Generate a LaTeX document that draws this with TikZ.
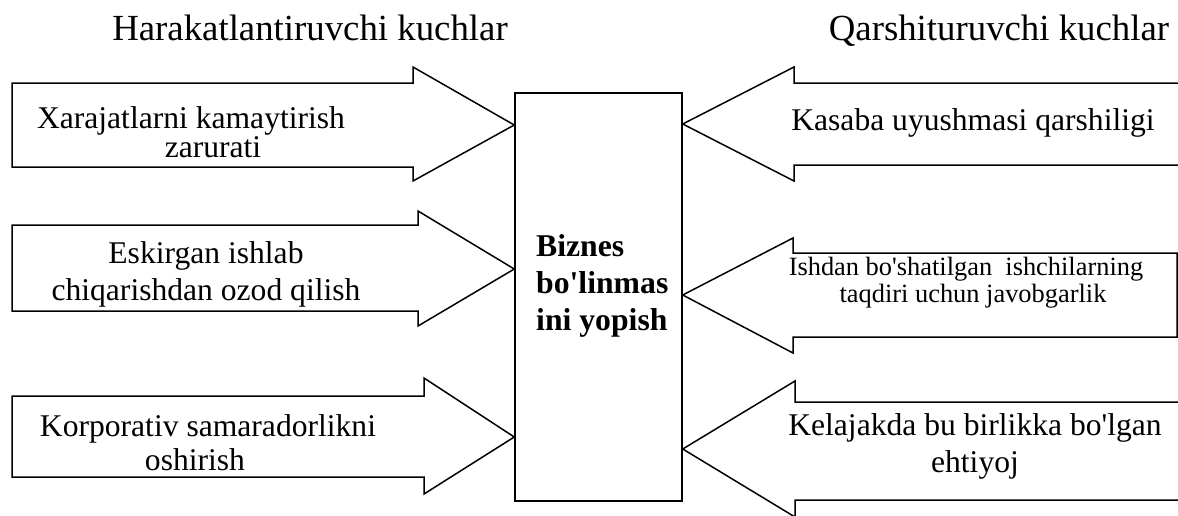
\documentclass[tikz,border=0pt]{standalone}
\usepackage{fontspec}
\setmainfont{Liberation Serif}
\begin{document}
\begin{tikzpicture}[x=1pt,y=-1pt,
  outline/.style={draw=black,line width=1.5pt,line join=miter,fill=white},
  heading/.style={font=\fontsize{36.8pt}{44pt}\selectfont,inner sep=0pt,anchor=base},
  lbl/.style={inner sep=0pt,anchor=base,align=center},
  sz/.style={font=\fontsize{31.6pt}{#1}\selectfont},
]
\useasboundingbox (0,0) rectangle (1178,515);
\begin{scope}
\clip (0,0) rectangle (1178,515);

% central block
\node[outline,minimum width=167pt,minimum height=408pt,inner sep=0pt] (box) at (598.5,297) {};
% multi-line nodes: the base anchor sits on the last line
\node[inner sep=0pt,anchor=base west,align=left,
      font=\fontsize{31.7pt}{37pt}\selectfont\bfseries] (boxtext) at (536,330)
  {Biznes\\bo\textquotesingle linmas\\ini yopish};

% driving forces (left)
\draw[outline] (12,83) -- (413,83) -- (413,67) -- (box.west |- 0,125) -- (413,181) -- (413,167) -- (12,167) -- cycle;
\draw[outline] (12,225) -- (418,225) -- (418,211) -- (box.west |- 0,269) -- (418,326) -- (418,311) -- (12,311) -- cycle;
\draw[outline] (12,396) -- (424,396) -- (424,378) -- (box.west |- 0,437) -- (424,494) -- (424,477) -- (12,477) -- cycle;

% restraining forces (right)
\draw[outline] (1200,83) -- (794,83) -- (794,67) -- (box.east |- 0,124) -- (794,181) -- (794,165) -- (1200,165);
\draw[outline] (1177,253) -- (793,253) -- (793,238) -- (box.east |- 0,295) -- (793,353) -- (793,337) -- (1177,337) -- cycle;
\draw[outline] (1200,402) -- (795,402) -- (795,381) -- (box.east |- 0,449) -- (795,517) -- (795,500) -- (1200,500);

% labels
\node[lbl,sz=29pt] (l1) at (191,157) {Xarajatlarni kamaytirish\\\hspace*{44pt}zarurati};
\node[lbl,sz=37pt] (l2) at (206,300) {Eskirgan ishlab\\chiqarishdan ozod qilish};
\node[lbl,sz=34pt] (l3) at (208,470) {Korporativ samaradorlikni\\oshirish\hspace*{26pt}};
\node[lbl,sz=37pt] (r1) at (973,130) {Kasaba uyushmasi qarshiligi};
\node[lbl,font=\fontsize{26.4pt}{27pt}\selectfont] (r2) at (966,302)
  {Ishdan bo\textquotesingle shatilgan\ \ ishchilarning\\\hspace*{14pt}taqdiri uchun javobgarlik};
\node[lbl,sz=37pt] (r3) at (975,472) {Kelajakda bu birlikka bo\textquotesingle lgan\\ehtiyoj};

% column headings
\node[heading] (hl) at (310,40) {Harakatlantiruvchi kuchlar};
\node[heading] (hr) at (999,40) {Qarshituruvchi kuchlar};
\end{scope}
\end{tikzpicture}
\end{document}
